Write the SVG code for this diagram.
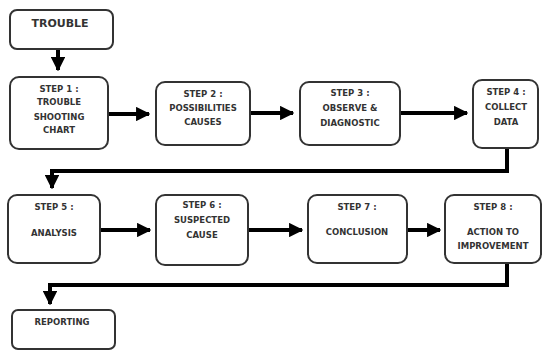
<svg xmlns="http://www.w3.org/2000/svg" width="543" height="351" viewBox="0 0 543 351">
<defs>
<marker id="ah" viewBox="0 0 10 10" refX="9" refY="5" markerWidth="3.6" markerHeight="3.6" markerUnits="strokeWidth" orient="auto">
<path d="M0,0 L10,5 L0,10 Z" fill="#000"/>
</marker>
<style>
.box{fill:#fff;stroke:#333;stroke-width:2}
.t{font-family:"DejaVu Sans",sans-serif;font-weight:bold;font-size:8.5px;fill:#333;text-anchor:middle}
.big{font-size:11px}
.c{fill:none;stroke:#000;stroke-width:4}
</style>
</defs>
<rect width="543" height="351" fill="#fff"/>
<g id="connectors">
<path class="c" d="M58,50 V70" marker-end="url(#ah)"/>
<path class="c" d="M108,114 H149" marker-end="url(#ah)"/>
<path class="c" d="M250,113 H293" marker-end="url(#ah)"/>
<path class="c" d="M400,113 H467" marker-end="url(#ah)"/>
<path class="c" d="M507,148 V171 H52 V188" marker-end="url(#ah)"/>
<path class="c" d="M100,230 H150" marker-end="url(#ah)"/>
<path class="c" d="M248,230 H302" marker-end="url(#ah)"/>
<path class="c" d="M407,230 H440" marker-end="url(#ah)"/>
<path class="c" d="M507,263 V285 H50 V304" marker-end="url(#ah)"/>
</g>
<g id="trouble">
<rect class="box" x="10" y="10" width="103" height="39" rx="7"/>
<text class="t big" x="60" y="27">TROUBLE</text>
</g>
<g id="step1">
<rect class="box" x="10" y="77" width="98" height="72" rx="9"/>
<text class="t" x="59" y="92">STEP 1 :</text>
<text class="t" x="59" y="105">TROUBLE</text>
<text class="t" x="59" y="120">SHOOTING</text>
<text class="t" x="59" y="133">CHART</text>
</g>
<g id="step2">
<rect class="box" x="156" y="82" width="94" height="63" rx="9"/>
<text class="t" x="203" y="97">STEP 2 :</text>
<text class="t" x="203" y="111">POSSIBILITIES</text>
<text class="t" x="203" y="125">CAUSES</text>
</g>
<g id="step3">
<rect class="box" x="300" y="82" width="100" height="63" rx="9"/>
<text class="t" x="350" y="96">STEP 3 :</text>
<text class="t" x="350" y="111">OBSERVE &amp;</text>
<text class="t" x="350" y="126">DIAGNOSTIC</text>
</g>
<g id="step4">
<rect class="box" x="473" y="80" width="65" height="68" rx="9"/>
<text class="t" x="506" y="95">STEP 4 :</text>
<text class="t" x="506" y="110">COLLECT</text>
<text class="t" x="506" y="125">DATA</text>
</g>
<g id="step5">
<rect class="box" x="8" y="195" width="92" height="68" rx="9"/>
<text class="t" x="54" y="210">STEP 5 :</text>
<text class="t" x="54" y="236">ANALYSIS</text>
</g>
<g id="step6">
<rect class="box" x="156" y="195" width="92" height="70" rx="9"/>
<text class="t" x="202" y="208">STEP 6 :</text>
<text class="t" x="202" y="223">SUSPECTED</text>
<text class="t" x="202" y="238">CAUSE</text>
</g>
<g id="step7">
<rect class="box" x="308" y="195" width="99" height="68" rx="9"/>
<text class="t" x="357" y="210">STEP 7 :</text>
<text class="t" x="357" y="235">CONCLUSION</text>
</g>
<g id="step8">
<rect class="box" x="445" y="195" width="96" height="68" rx="9"/>
<text class="t" x="493" y="210">STEP 8 :</text>
<text class="t" x="493" y="235">ACTION TO</text>
<text class="t" x="493" y="249">IMPROVEMENT</text>
</g>
<g id="reporting">
<rect class="box" x="12" y="310" width="103" height="39" rx="6"/>
<text class="t" x="62" y="325">REPORTING</text>
</g>
</svg>
